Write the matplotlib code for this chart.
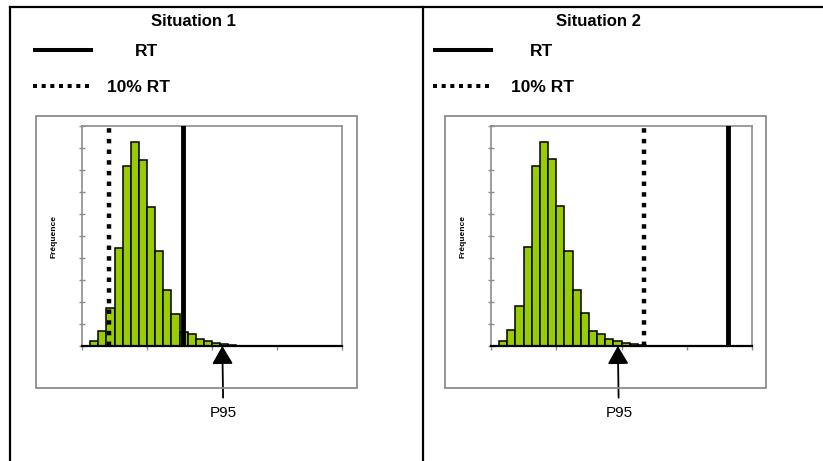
import matplotlib
matplotlib.use("Agg")
import matplotlib.pyplot as plt
from matplotlib.lines import Line2D
from matplotlib.patches import Rectangle

plt.rcParams["font.family"] = ["Liberation Sans", "DejaVu Sans"]

W, H = 823, 461

# --- Données ---------------------------------------------------------------
TITRES = ["Situation 1", "Situation 2"]
LEGENDE = ["RT", "10% RT"]
# classes de l'histogramme (début de classe), même échelle pour les deux graphes
CLASSES = list(range(1, 19))
FREQ_S1 = [0.23, 0.70, 1.73, 4.48, 8.19, 9.30, 8.48, 6.35, 4.33, 2.54,
           1.47, 0.65, 0.53, 0.30, 0.23, 0.15, 0.10, 0.06]
FREQ_S2 = [0.25, 0.75, 1.80, 4.50, 8.20, 9.30, 8.50, 6.40, 4.35, 2.55,
           1.50, 0.70, 0.55, 0.30, 0.25, 0.15, 0.10, 0.06]
RT = [12.4, 29.0]
RT10 = [3.32, 18.7]
P95 = [17.27, 15.55]

VERT = "#99cc00"
GRIS = "#8c8c8c"


def fx(px):
    return px / W


def fy(py):
    return 1 - py / H


fig = plt.figure(figsize=(W / 100, H / 100), dpi=100)

# cadre du tableau
for xs, ys in [((10, W), (7, 7)), ((10, 10), (7, H)), ((422.7, 422.7), (7, H))]:
    fig.add_artist(Line2D([fx(x) for x in xs], [fy(y) for y in ys],
                          color="black", lw=1.6))

panneaux = [
    dict(titre=193, boite=(36, 357), axe=(82, 342), ligne=(33, 93),
         txt_rt=135, txt_10=107),
    dict(titre=598, boite=(445, 766), axe=(491, 752), ligne=(433, 493),
         txt_rt=530, txt_10=511),
]
series = [FREQ_S1, FREQ_S2]

for i, p in enumerate(panneaux):
    # titre
    fig.text(fx(p["titre"]), fy(21), TITRES[i],
             ha="center", va="center", fontsize=12, fontweight="bold")
    # légende manuelle
    l0, l1 = p["ligne"]
    fig.add_artist(Line2D([fx(l0), fx(l1)], [fy(50), fy(50)], color="black",
                          lw=2.9, solid_capstyle="butt"))
    fig.add_artist(Line2D([fx(l0), fx(l1)], [fy(86), fy(86)], color="black",
                          lw=2.9, linestyle=(0, (1, 1.15)), dash_capstyle="butt"))
    fig.text(fx(p["txt_rt"]), fy(51), LEGENDE[0], ha="left", va="center",
             fontsize=12.5, fontweight="bold")
    fig.text(fx(p["txt_10"]), fy(87), LEGENDE[1], ha="left", va="center",
             fontsize=12.5, fontweight="bold")

    # zone du graphique
    b0, b1 = p["boite"]
    fig.add_artist(Rectangle((fx(b0), fy(388)), fx(b1 - b0), (388 - 116) / H,
                             transform=fig.transFigure, fill=False,
                             edgecolor=GRIS, lw=1.3))

    a0, a1 = p["axe"]
    ax = fig.add_axes([fx(a0), fy(346), fx(a1 - a0), (346 - 126.5) / H])
    ax.bar(CLASSES, series[i], width=1, align="edge", color=VERT,
           edgecolor="black", linewidth=1.1, zorder=2)
    ax.axvline(RT10[i], color="black", lw=3.2, linestyle=(0, (1, 1.4)),
               dash_capstyle="butt", zorder=3)
    ax.axvline(RT[i], color="black", lw=3.5, zorder=3)
    ax.set_xlim(0, 32)
    ax.set_ylim(0, 10)
    ax.set_xticks([0, 8, 16, 24, 32])
    ax.set_yticks(range(0, 11))
    ax.set_xticklabels([])
    ax.set_yticklabels([])
    ax.tick_params(axis="x", direction="out", length=3, width=1, color=GRIS)
    ax.tick_params(axis="y", direction="inout", length=5, width=1, color=GRIS)
    for s in ["left", "top", "right"]:
        ax.spines[s].set_color(GRIS)
        ax.spines[s].set_linewidth(1.2)
    ax.spines["bottom"].set_color("black")
    ax.spines["bottom"].set_linewidth(1.6)
    ax.spines["bottom"].set_zorder(4)

    fig.text(fx(a0 - 28), fy(236), "Fréquence", rotation=90, ha="center",
             va="center", fontsize=6, fontweight="bold")

    x_pix = ax.transData.transform((P95[i], 0))[0]
    ax.annotate("P95", xy=(P95[i], 0), xycoords="data",
                xytext=(x_pix + 1, H - 413), textcoords="figure pixels",
                ha="center", va="center", fontsize=11,
                annotation_clip=False,
                arrowprops=dict(arrowstyle="-|>,head_width=0.32,head_length=0.55",
                                mutation_scale=20, color="black", lw=1.3,
                                shrinkA=4, shrinkB=0))

fig.savefig("out.png", dpi=100)
